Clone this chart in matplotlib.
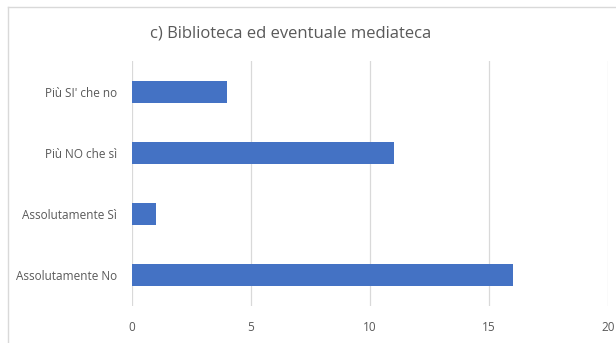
import matplotlib.pyplot as plt
from matplotlib.lines import Line2D

plt.rcParams['font.family'] = ['Open Sans', 'DejaVu Sans']

CATEGORIES = ['Assolutamente No', 'Assolutamente Sì', 'Più NO che sì', "Più SI' che no"]
VALUES = [16, 1, 11, 4]
XTICKS = [0, 5, 10, 15, 20]
TITLE = 'c) Biblioteca ed eventuale mediateca'

W, H = 616, 343

fig = plt.figure(figsize=(W / 100, H / 100), dpi=100)
ax = fig.add_axes([132 / W, 1 - 306 / H, (608 - 132) / W, (306 - 61) / H])

ax.barh(range(len(CATEGORIES)), VALUES, height=0.36, color='#4472C4', zorder=3)
ax.set_xlim(0, 20)
ax.set_ylim(-0.5, len(CATEGORIES) - 0.5)
ax.set_xticks(XTICKS)
ax.set_xticklabels([str(t) for t in XTICKS])
ax.set_yticks(range(len(CATEGORIES)))
ax.set_yticklabels(CATEGORIES)
ax.tick_params(axis='both', length=0, labelsize=8.5, colors='#595959')
ax.tick_params(axis='x', pad=11)
ax.tick_params(axis='y', pad=11)
ax.grid(axis='x', color='#D9D9D9', linewidth=0.9, zorder=0)
for s in ax.spines.values():
    s.set_visible(False)

fig.text(291 / W, 1 - 33 / H, TITLE, ha='center', va='center', fontsize=12, color='#595959')

# chart frame (left and top edges visible)
fig.add_artist(Line2D([8 / W, 8 / W], [0, 1 - 7 / H], color='#D9D9D9', linewidth=1))
fig.add_artist(Line2D([8 / W, 1], [1 - 7 / H, 1 - 7 / H], color='#D9D9D9', linewidth=1))

fig.savefig('out.png', dpi=100)
